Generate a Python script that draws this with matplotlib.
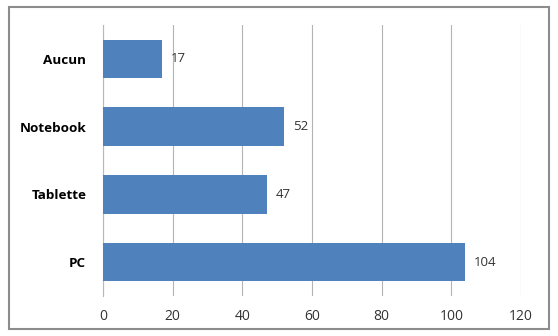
import matplotlib.pyplot as plt
from matplotlib.patches import FancyBboxPatch

categories = ['PC', 'Tablette', 'Notebook', 'Aucun']
values = [104, 47, 52, 17]
xticks = [0, 20, 40, 60, 80, 100, 120]

plt.rcParams['font.family'] = ['Open Sans', 'DejaVu Sans']

fig = plt.figure(figsize=(5.58, 3.36), dpi=100)
ax = fig.add_axes([0.1846, 0.119, 0.7491, 0.8066])

# cadre autour du graphique
fig.patches.append(FancyBboxPatch((9 / 558, 7 / 336), 540 / 558, 322 / 336,
                                  boxstyle='square,pad=0', transform=fig.transFigure,
                                  fill=False, edgecolor='#8c8c8c', linewidth=1.5))

bars = ax.barh(categories, values, height=0.57, color='#4F81BD', zorder=3)
for b, v in zip(bars, values):
    ax.text(v + 2.5, b.get_y() + b.get_height() / 2, str(v),
            va='center', ha='left', fontsize=9.5, color='#333333')

ax.set_xlim(0, 120)
ax.set_ylim(-0.5, 3.5)
ax.set_xticks(xticks)
ax.xaxis.grid(True, color='#b4b4b4', linewidth=0.8, zorder=0)
ax.tick_params(axis='both', length=0)
ax.tick_params(axis='x', labelsize=10, labelcolor='#333333', pad=9)
ax.tick_params(axis='y', labelsize=9.7, pad=12)
for lab in ax.get_yticklabels():
    lab.set_fontweight('bold')
for s in ['top', 'right', 'bottom']:
    ax.spines[s].set_visible(False)
ax.spines['left'].set_color('#b8b8b8')

plt.savefig('out.png', dpi=100)
